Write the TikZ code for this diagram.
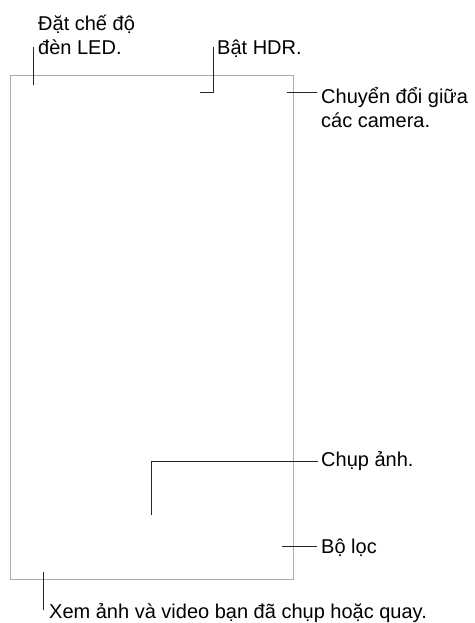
\documentclass[tikz,border=0pt]{standalone}
\usepackage{fontspec}
\setmainfont{Liberation Sans}
\usepackage{xcolor}
\definecolor{framegray}{gray}{0.68}
\definecolor{callout}{gray}{0.15}

\begin{document}
\begin{tikzpicture}[x=1pt, y=1pt, font=\fontsize{20}{24}\selectfont,
    lbl/.style={inner sep=0pt, anchor=base west, align=left},
    pointer/.style={draw=callout, line width=1pt}]
    \useasboundingbox (0,0) rectangle (474,623);

    % Screen
    \draw[framegray, line width=1pt] (10,43) rectangle (293,547.5);

    % Labels
    \node[lbl] (led) at (38,568) {Đặt chế độ\\đèn LED.};
    \node[lbl] (hdr) at (217,568) {Bật HDR.};
    \node[lbl] (camera) at (321,495) {Chuyển đổi giữa\\các camera.};
    \node[lbl] (chup) at (321,156) {Chụp ảnh.};
    \node[lbl] (loc) at (321,69) {Bộ lọc};
    \node[lbl] (xem) at (49,5) {Xem ảnh và video bạn đã chụp hoặc quay.};

    % Pointers
    \coordinate (ledtip) at (33,538);
    \coordinate (ledtop) at (33,576);
    \draw[pointer] (ledtip) -- (ledtop);

    \coordinate (hdrtop) at (213,576);
    \coordinate (hdrtip) at (200,530);
    \draw[pointer] (hdrtop) |- (hdrtip);

    \coordinate (camtip) at (287,530);
    \draw[pointer, shorten >=4pt] (camtip) -- (camtip -| camera.west);

    \coordinate (chuptip) at (151,108);
    \draw[pointer, shorten >=3pt] (chuptip) |- (chup.west);

    \coordinate (loctip) at (282,76);
    \draw[pointer, shorten >=4pt] (loctip) -- (loctip -| loc.west);

    \coordinate (xemtop) at (43,51);
    \coordinate (xemtip) at (43,13);
    \draw[pointer] (xemtop) -- (xemtip);
\end{tikzpicture}
\end{document}
